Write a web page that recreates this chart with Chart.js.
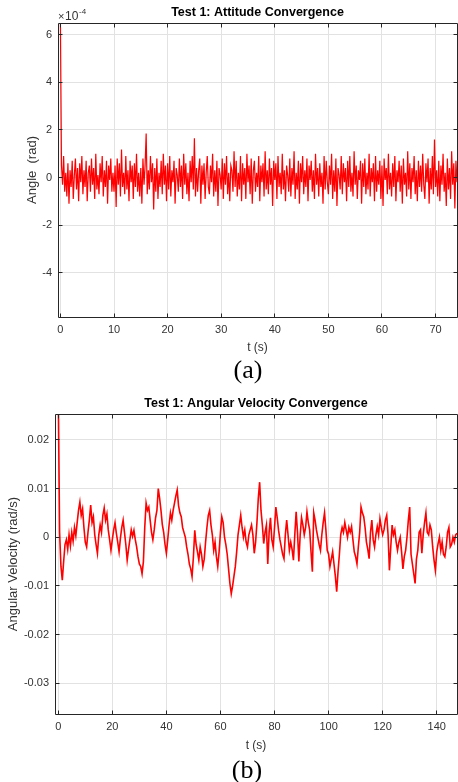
<!DOCTYPE html>
<html>
<head>
<meta charset="utf-8">
<script src="https://cdn.jsdelivr.net/npm/chart.js@4.4.1/dist/chart.umd.min.js"></script>
<style>
  html, body { margin: 0; padding: 0; background: #fff; }
  #page { position: relative; width: 458px; height: 782px; overflow: hidden; background: #fff; }
  canvas { position: absolute; left: 0; }
  .cap { position: absolute; width: 60px; text-align: center; font-family: "Liberation Serif", "Times New Roman", serif; font-size: 26px; line-height: 26px; color: #000; }
</style>
</head>
<body>
<div id="page">
  <canvas id="chartA" width="458" height="360" style="top:0px"></canvas>
  <canvas id="chartB" width="458" height="370" style="top:390px"></canvas>
  <div class="cap" style="left:218px; top:357px">(a)</div>
  <div class="cap" style="left:217px; top:757px">(b)</div>
</div>
<script>
//
// Test 1 convergence plots: (a) attitude angle, (b) angular velocity
//

// (a) attitude, sampled every 0.2 s, values in units of 1e-4 rad
const dtA = 0.2;
const angleA = [
  6.6, 0.5, -0.3, 0.9, -0.6, 0.2, -0.8, 0.6, -1.1, 0.3,
  -0.4, 0.7, -0.9, 0.1, 0.8, -0.5, 0.4, -1.0, 0.6, -0.2,
  0.9, -0.7, 0.3, -0.4, 0.7, -1.0, 0.2, 0.5, -0.6, 0.8,
  -0.3, 0.4, -0.9, 1.0, -0.5, 0.1, -0.7, 0.6, -0.2, 0.9,
  -0.8, 0.3, -0.4, 0.7, -1.1, 0.5, -0.1, 0.8, -0.6, 0.2,
  -0.6, 0.5, -1.24, 0.8, -0.3, 0.6, -0.8, 1.18, -0.4, 0.2,
  -0.7, 0.9, -0.5, 0.3, -1.0, 0.7, -0.2, 0.5, -0.9, 0.6,
  -0.4, 1.0, -0.6, 0.2, -0.8, 0.4, -1.1, 0.8, -0.3, 0.5,
  1.85, -0.7, 0.3, -0.5, 0.9, -0.2, 0.6, -1.35, 0.4, -0.6,
  0.8, -0.9, 0.2, -0.4, 0.7, -0.7, 1.0, -0.3, 0.5, -1.0,
  0.6, -0.5, 0.9, -0.8, 0.3, -0.2, 0.7, -1.1, 0.4, 0.1,
  -0.6, 0.8, -0.4, 0.5, -0.9, 1.0, -0.3, 0.6, -0.7, 0.2,
  -1.0, 0.7, -0.2, 0.9, -0.5, 1.65, -0.8, 0.4, -0.6, 0.3,
  0.8, -1.1, 0.5, -0.3, 0.6, -0.9, 0.2, 0.9, -0.4, -0.7,
  0.5, -0.2, 1.0, -0.8, 0.3, -0.6, 0.7, -1.2, 0.4, 0.1,
  -0.5, 0.8, -0.9, 0.6, -0.3, 0.9, -0.7, 0.2, -1.0, 0.5,
  0.3, -0.6, 1.1, -0.4, 0.7, -0.8, 0.2, -0.5, 0.9, -1.0,
  0.6, -0.3, 0.4, -0.9, 1.0, -0.2, 0.5, -0.7, 0.8, -1.1,
  0.3, 0.7, -0.6, 0.2, -0.4, 0.9, -1.0, 0.5, -0.2, 0.6,
  -0.8, 1.1, -0.5, 0.3, -0.7, 0.8, -0.3, 0.4, -1.2, 0.7,
  -0.1, 0.6, -0.9, 0.9, -0.4, 0.2, -0.7, 1.0, -0.5, 0.3,
  -1.0, 0.5, 0.1, -0.6, 0.8, -0.8, 0.4, -0.3, 1.1, -0.9,
  0.2, -0.5, 0.7, -1.1, 0.6, -0.2, 0.9, -0.7, 0.3, -0.4,
  0.8, -1.0, 0.5, -0.1, 0.7, -0.6, 0.3, -0.9, 1.0, -0.3,
  0.4, -0.8, 0.6, -0.4, 0.2, -1.1, 0.9, -0.5, 0.7, -0.2,
  -0.7, 0.5, -0.3, 1.0, -0.9, 0.3, -0.6, 0.8, -1.2, 0.4,
  0.1, -0.5, 0.9, -0.7, 0.6, -0.2, 0.4, -1.0, 0.7, -0.4,
  0.9, -0.6, 0.2, -0.8, 1.1, -0.3, 0.5, -0.9, 0.3, -0.1,
  0.7, -1.1, 0.6, -0.4, 0.8, -0.7, 0.2, -0.5, 1.0, -0.8,
  0.4, -0.2, 0.6, -1.0, 0.9, -0.6, 0.3, -0.3, 0.7, -0.9,
  0.5, -1.2, 0.8, -0.1, 0.4, -0.7, 1.0, -0.5, 0.2, -0.8,
  0.6, -0.4, 0.9, -1.0, 0.3, -0.2, 0.7, -0.6, 0.5, -1.1,
  0.8, -0.3, 0.2, -0.8, 1.1, -0.5, 0.6, -0.9, 0.4, -0.2,
  0.9, -0.7, 0.3, -1.0, 0.7, -0.4, 0.5, -0.6, 1.0, -0.3,
  -0.9, 0.6, -0.2, 0.8, -1.1, 0.4, -0.5, 0.9, -0.7, 1.6,
  -0.4, 0.3, -0.8, 0.7, -1.0, 0.5, -0.3, 1.0, -0.6, 0.2,
  -1.2, 0.8, -0.5, 0.4, -0.9, 1.1, -0.3, 0.6, -1.3, 0.7,
  -0.2
];
const xTicksA = [0, 10, 20, 30, 40, 50, 60, 70];
const yTicksA = [-4, -2, 0, 2, 4, 6];

// (b) angular velocity, sampled every 0.5 s, values in rad/s
const dtB = 0.5;
const omegaB = [
  0.030, 0.0010, -0.0060, -0.0088, -0.0050, -0.0015, -0.0005, -0.0025, 0.0005, -0.0018,
  0.0010, -0.0008, 0.0020, 0.0003, 0.0030, 0.0055, 0.0072, 0.0045, 0.0058, 0.0020,
  -0.0010, -0.0020, 0.0010, 0.0035, 0.0066, 0.0030, 0.0042, 0.0005, -0.0015, -0.0033,
  0.0005, 0.0025, 0.0010, 0.0045, 0.0060, 0.0035, 0.0048, 0.0015, -0.0005, -0.0027,
  -0.0005, 0.0015, 0.0030, 0.0008, -0.0010, -0.0030, -0.0002, 0.0020, 0.0035, 0.0010,
  -0.0015, -0.0047, -0.0025, -0.0005, 0.0015, 0.0002, 0.0014, -0.0005, -0.0020, -0.0040,
  -0.0055, -0.0060, -0.0075, -0.0050, 0.0020, 0.0070, 0.0055, 0.0062, 0.0035, 0.0010,
  -0.0005, 0.0015, 0.0040, 0.0055, 0.0100, 0.0080, 0.0055, 0.0026, 0.0010, -0.0015,
  -0.0033, -0.0005, 0.0025, 0.0050, 0.0035, 0.0055, 0.0070, 0.0085, 0.0097, 0.0065,
  0.0050, 0.0042, 0.0020, 0.0010, 0.0000, -0.0020, -0.0035, -0.0055, -0.0065, -0.0081,
  -0.0040, 0.0014, -0.0015, -0.0030, -0.0047, -0.0020, -0.0035, -0.0060, -0.0045, -0.0010,
  0.0020, 0.0045, 0.0055, 0.0025, 0.0005, -0.0027, -0.0010, -0.0040, -0.0060, -0.0030,
  0.0010, 0.0042, 0.0030, 0.0000, -0.0015, -0.0035, -0.0065, -0.0095, -0.0116, -0.0100,
  -0.0080, -0.0060, -0.0030, 0.0005, 0.0025, 0.0045, 0.0020, 0.0000, 0.0015, -0.0010,
  -0.0020, 0.0005, 0.0015, 0.0025, 0.0005, -0.0033, -0.0010, 0.0030, 0.0080, 0.0113,
  0.0055, 0.0025, -0.0013, 0.0010, 0.0025, -0.0055, 0.0010, 0.0040, -0.0005, -0.0020,
  0.0020, 0.0062, 0.0040, 0.0014, -0.0005, -0.0020, -0.0035, -0.0044, 0.0005, 0.0035,
  0.0005, -0.0027, -0.0010, -0.0025, -0.0047, 0.0005, 0.0052, 0.0010, -0.0050, 0.0005,
  0.0040, 0.0025, 0.0005, 0.0020, 0.0052, 0.0030, 0.0015, -0.0030, -0.0071, 0.0050,
  0.0035, 0.0015, 0.0000, -0.0015, -0.0027, 0.0005, 0.0030, 0.0050, 0.0015, -0.0027,
  -0.0035, -0.0060, -0.0045, -0.0030, -0.0055, -0.0080, -0.0112, -0.0070, -0.0035, 0.0006,
  0.0020, 0.0010, 0.0030, 0.0015, 0.0000, 0.0020, 0.0010, 0.0022, -0.0005, -0.0030,
  -0.0040, -0.0055, -0.0020, 0.0010, 0.0062, 0.0050, 0.0042, 0.0020, -0.0010, -0.0025,
  -0.0044, 0.0010, 0.0035, -0.0005, -0.0020, 0.0005, 0.0022, 0.0005, 0.0038, 0.0020,
  0.0005, 0.0015, 0.0035, 0.0045, 0.0005, -0.0068, -0.0020, 0.0025, 0.0005, 0.0015,
  -0.0010, -0.0027, -0.0010, 0.0000, -0.0030, -0.0065, -0.0040, -0.0027, 0.0000, 0.0035,
  0.0062, -0.0035, -0.0055, -0.0075, -0.0095, -0.0045, -0.0027, 0.0010, 0.0015, -0.0033,
  0.0005, 0.0030, 0.0050, 0.0010, 0.0005, 0.0025, 0.0015, -0.0020, -0.0047, -0.0068,
  -0.0030, -0.0013, 0.0000, -0.0027, -0.0010, -0.0035, -0.0040, -0.0020, 0.0010, 0.0020,
  -0.0020, -0.0015, 0.0000, -0.0010, 0.0005, 0.0008
];
const xTicksB = [0, 20, 40, 60, 80, 100, 120, 140];
const yTicksB = [-0.03, -0.02, -0.01, 0, 0.01, 0.02];

const FONT = '"Liberation Sans", Arial, Helvetica, sans-serif';
const TICK = '#333333';
const GRID = '#e2e2e2';
const AXIS = '#262626';
const RED = '#ff0000';

Chart.defaults.font.family = FONT;

function align(px) {
  return Math.round(px - 0.5) + 0.5;
}

// MATLAB style box with inward tick marks, plus optional exponent label
const framePlugin = {
  id: 'frame',
  afterDraw(chart, args, opts) {
    const { ctx, chartArea: a, scales } = chart;
    const l = align(a.left), r = align(a.right), t = align(a.top), b = align(a.bottom);
    ctx.save();
    ctx.strokeStyle = AXIS;
    ctx.lineWidth = 1;
    ctx.beginPath();
    ctx.rect(l, t, r - l, b - t);
    scales.x.ticks.forEach(tk => {
      const px = align(scales.x.getPixelForValue(tk.value));
      ctx.moveTo(px, b); ctx.lineTo(px, b - 4);
      ctx.moveTo(px, t); ctx.lineTo(px, t + 4);
    });
    scales.y.ticks.forEach(tk => {
      const py = align(scales.y.getPixelForValue(tk.value));
      ctx.moveTo(l, py); ctx.lineTo(l + 4, py);
      ctx.moveTo(r, py); ctx.lineTo(r - 4, py);
    });
    ctx.stroke();
    if (opts.exponent) {
      ctx.fillStyle = TICK;
      ctx.textBaseline = 'alphabetic';
      ctx.font = '11px ' + FONT;
      ctx.fillText('\u00d7', a.left, 20);
      ctx.font = '12px ' + FONT;
      ctx.fillText('10', a.left + 7, 20);
      ctx.font = '8px ' + FONT;
      ctx.fillText(opts.exponent, a.left + 21, 14);
    }
    ctx.restore();
  }
};

function makeChart(id, cfg) {
  const pts = cfg.values.map((v, i) => ({ x: i * cfg.dt, y: v }));
  return new Chart(document.getElementById(id), {
    type: 'line',
    data: {
      datasets: [{
        data: pts,
        borderColor: RED,
        borderWidth: cfg.lineWidth,
        pointRadius: 0,
        tension: 0
      }]
    },
    options: {
      responsive: false,
      animation: false,
      events: [],
      layout: { padding: { left: 0, right: 1, top: 0, bottom: 0 } },
      plugins: {
        legend: { display: false },
        tooltip: { enabled: false },
        title: {
          display: true,
          fullSize: false,
          text: cfg.title,
          color: '#000',
          font: { family: FONT, size: 12.5, weight: 'bold', lineHeight: 1.2 },
          padding: cfg.titlePad
        },
        frame: { exponent: cfg.exponent }
      },
      scales: {
        x: {
          type: 'linear',
          min: cfg.xMin,
          max: cfg.xMax,
          afterBuildTicks: s => { s.ticks = cfg.xTicks.map(v => ({ value: v })); },
          afterFit: s => { s.height = cfg.xHeight; },
          grid: { color: GRID, drawTicks: false },
          border: { display: false },
          ticks: { padding: 6, color: TICK, font: { size: 11 }, maxRotation: 0, autoSkip: false, callback: v => String(v) },
          title: { display: true, text: 't (s)', color: TICK, font: { size: 12 }, padding: { top: 0, bottom: cfg.xTitleBottom } }
        },
        y: {
          type: 'linear',
          min: cfg.yMin,
          max: cfg.yMax,
          afterBuildTicks: s => { s.ticks = cfg.yTicks.map(v => ({ value: v })); },
          afterFit: s => { s.width = cfg.yWidth; },
          grid: { color: GRID, drawTicks: false },
          border: { display: false },
          ticks: { padding: 6, color: TICK, font: { size: 11 }, autoSkip: false, callback: v => String(v) },
          title: { display: true, text: cfg.yTitle, color: TICK, font: { size: 13 }, padding: { top: cfg.yTitleTop, bottom: 0 } }
        }
      }
    },
    plugins: [framePlugin]
  });
}

makeChart('chartA', {
  values: angleA, dt: dtA, lineWidth: 1.2,
  title: 'Test 1: Attitude Convergence',
  titlePad: { top: 5.5, bottom: 2.5 },
  exponent: '-4',
  xMin: -0.45, xMax: 74, xTicks: xTicksA, xHeight: 43, xTitleBottom: 4.8,
  yMin: -5.87, yMax: 6.5, yTicks: yTicksA, yWidth: 58,
  yTitle: 'Angle  (rad)', yTitleTop: 24.7
});

makeChart('chartB', {
  values: omegaB, dt: dtB, lineWidth: 1.6,
  title: 'Test 1: Angular Velocity Convergence',
  titlePad: { top: 6.5, bottom: 2.5 },
  exponent: null,
  xMin: -1.2, xMax: 147.5, xTicks: xTicksB, xHeight: 46, xTitleBottom: 6.8,
  yMin: -0.0363, yMax: 0.0253, yTicks: yTicksB, yWidth: 55,
  yTitle: 'Angular Velocity (rad/s)', yTitleTop: 5.2
});
</script>
</body>
</html>
